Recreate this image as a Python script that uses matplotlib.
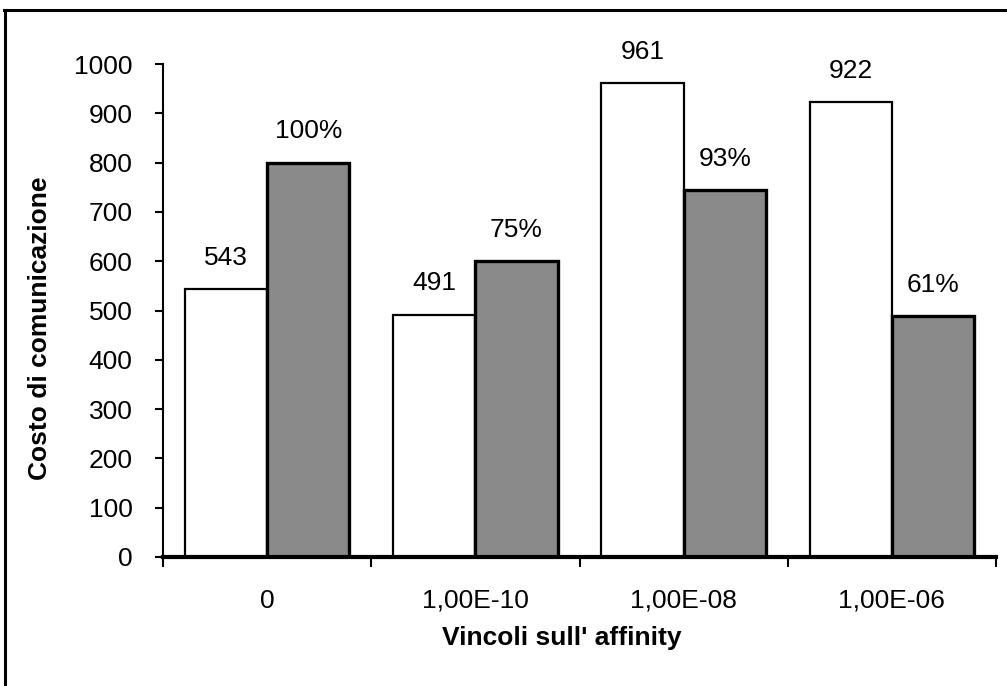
import matplotlib
matplotlib.use("Agg")
import matplotlib.pyplot as plt
from matplotlib.lines import Line2D
import numpy as np

plt.rcParams['font.family'] = ['Liberation Sans', 'DejaVu Sans']

categories = ["0", "1,00E-10", "1,00E-08", "1,00E-06"]
costs = [543, 491, 961, 922]
gray_values = [800, 600, 744, 488]
gray_labels = ["100%", "75%", "93%", "61%"]

W, H = 1007, 686
fig = plt.figure(figsize=(W / 100, H / 100), dpi=100)

ax_l, ax_r, ax_t, ax_b = 163, 996, 64, 557
ax = fig.add_axes([ax_l / W, (H - ax_b) / H, (ax_r - ax_l) / W, (ax_b - ax_t) / H])

x = np.arange(len(categories))
bw = 0.395
ax.bar(x - bw / 2, costs, width=bw, color="white", edgecolor="black", linewidth=1.6, zorder=2)
ax.bar(x + bw / 2, gray_values, width=bw, color="#8a8a8a", edgecolor="black", linewidth=2.4, zorder=2)

fs = 19
for xi, v in zip(x, costs):
    ax.text(xi - bw / 2, v + 64, str(v), ha="center", va="center", fontsize=fs)
for xi, v, lab in zip(x, gray_values, gray_labels):
    ax.text(xi + bw / 2, v + 64, lab, ha="center", va="center", fontsize=fs)

ax.set_xlim(-0.5, len(categories) - 0.5)
ax.set_ylim(0, 1000)
ax.set_yticks(np.arange(0, 1001, 100))
ax.tick_params(axis="y", direction="out", length=6, width=1.5, pad=16, labelsize=fs)
ax.set_xticks(x)
ax.set_xticklabels(categories)
ax.tick_params(axis="x", length=0, pad=23, labelsize=fs)
ax.set_xticks(np.arange(-0.5, len(categories), 1), minor=True)
ax.tick_params(axis="x", which="minor", direction="out", length=7, width=1.5)

for s in ["top", "right"]:
    ax.spines[s].set_visible(False)
ax.spines["left"].set_linewidth(1.5)
ax.spines["bottom"].set_linewidth(3)

fig.text(562 / W, 1 - 638 / H, "Vincoli sull' affinity", ha="center", va="center",
         fontsize=19, fontweight="bold")
fig.text(40 / W, 1 - 328 / H, "Costo di comunicazione", ha="center", va="center",
         rotation=90, fontsize=19, fontweight="bold")

fig.add_artist(Line2D([4 / W, 1.0], [1 - 10 / H, 1 - 10 / H], color="black", linewidth=2.2,
                      transform=fig.transFigure))
fig.add_artist(Line2D([5 / W, 5 / W], [0, 1 - 10 / H], color="black", linewidth=2.2,
                      transform=fig.transFigure))

fig.savefig("out.png", dpi=100)
